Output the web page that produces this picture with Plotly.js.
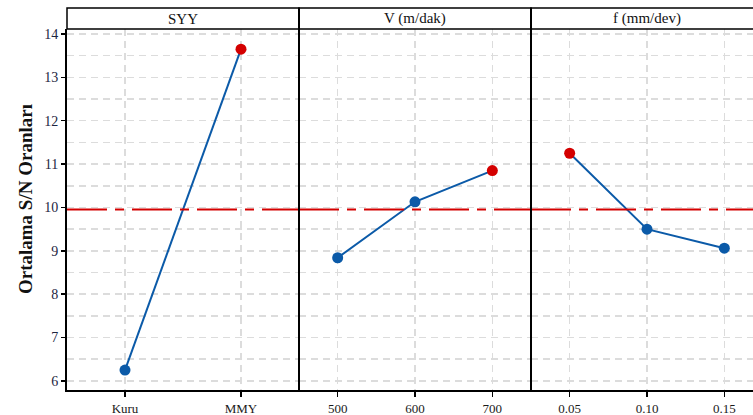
<!DOCTYPE html>
<html>
<head>
<meta charset="utf-8">
<script src="https://cdn.plot.ly/plotly-3.0.1.min.js"></script>
<style>
html,body{margin:0;padding:0;overflow:hidden;background:#fff;}
#chart{width:765px;height:415px;}
</style>
</head>
<body>
<div id="chart"></div>
<script>
// Data
const panelTitles = ['SYY', 'V (m/dak)', 'f (mm/dev)'];
const syyLevels = ['Kuru', 'MMY'];
const syyValues = [6.25, 13.65];
const vLevels = ['500', '600', '700'];
const vValues = [8.84, 10.13, 10.85];
const fLevels = ['0.05', '0.10', '0.15'];
const fValues = [11.25, 9.50, 9.06];
const meanSN = 9.95;
const yTicks = [6, 7, 8, 9, 10, 11, 12, 13, 14];
const yTitle = 'Ortalama S/N Oranları';

const BLUE = '#0b5aa8';
const RED = '#d40000';
const serif = 'Liberation Serif, Times New Roman, serif';

const levelsList = [syyLevels, vLevels, fLevels];
const valuesList = [syyValues, vValues, fValues];

function markerColors(vals) {
  const mx = Math.max(...vals);
  return vals.map(v => v === mx ? RED : BLUE);
}

const traces = levelsList.map((lv, i) => ({
  type: 'scatter',
  mode: 'lines+markers',
  x: lv,
  y: valuesList[i],
  xaxis: i === 0 ? 'x' : 'x' + (i + 1),
  yaxis: 'y',
  line: {color: BLUE, width: 2},
  marker: {color: markerColors(valuesList[i]), size: 11},
  showlegend: false,
  hoverinfo: 'x+y'
}));

const yTop = 0.945;
const layout = {
  width: 765, height: 415,
  margin: {l: 67, r: 2, t: 8, b: 25},
  paper_bgcolor: '#fff', plot_bgcolor: '#fff',
  showlegend: false,
  font: {family: serif, color: '#1a1a1a'},
  yaxis: {
    domain: [0, yTop],
    range: [5.79, 14.115],
    tickvals: yTicks,
    ticktext: yTicks.map(String),
    ticks: 'outside', ticklen: 4, tickwidth: 1.5, tickcolor: '#000',
    tickfont: {family: serif, size: 14, color: '#1c2541'},
    showline: true, linecolor: '#000', linewidth: 2,
    showgrid: true, gridcolor: '#dcdcdc', gridwidth: 1.5, griddash: '7px,5px',
    minor: {dtick: 0.5, tick0: 0, showgrid: true, gridcolor: '#dcdcdc', gridwidth: 1.5, griddash: '7px,5px', ticks: ''},
    zeroline: false
  },
  shapes: [],
  annotations: [{
    xref: 'paper', yref: 'paper', x: -0.0603, y: 0.5,
    text: '<b>' + yTitle + '</b>', textangle: -90, showarrow: false,
    xanchor: 'center', yanchor: 'middle',
    font: {family: serif, size: 19, color: '#111'}
  }]
};

const doms = [[0, 1/3], [1/3, 2/3], [2/3, 1]];
levelsList.forEach((lv, i) => {
  const key = i === 0 ? 'xaxis' : 'xaxis' + (i + 1);
  layout[key] = {
    domain: doms[i],
    anchor: 'y',
    type: 'category',
    categoryorder: 'array', categoryarray: lv,
    range: [-0.5, lv.length - 0.5],
    ticks: 'outside', ticklen: 5, tickwidth: 1.5, tickcolor: '#000',
    tickfont: {family: serif, size: 13, color: '#1a1a1a'},
    showline: true, linecolor: '#000', linewidth: 2,
    showgrid: true, gridcolor: '#dcdcdc', gridwidth: 1.5, griddash: '7px,5px',
    zeroline: false, fixedrange: true
  };
  // strip header
  layout.shapes.push({
    type: 'rect', xref: 'paper', yref: 'paper',
    x0: doms[i][0], x1: doms[i][1], y0: yTop, y1: 1,
    line: {color: '#000', width: 1.5}, fillcolor: '#fff', layer: 'above'
  });
  layout.annotations.push({
    xref: 'paper', yref: 'paper',
    x: (doms[i][0] + doms[i][1]) / 2, y: (yTop + 1) / 2,
    text: panelTitles[i], showarrow: false,
    xanchor: 'center', yanchor: 'middle',
    font: {family: serif, size: 15, color: '#111'}
  });
  // mean line
  layout.shapes.push({
    type: 'line', xref: (i === 0 ? 'x' : 'x' + (i + 1)) + ' domain', yref: 'y',
    x0: 0, x1: 1, y0: meanSN, y1: meanSN,
    line: {color: RED, width: 2, dash: '40px,8px,9px,8px'}, layer: 'above'
  });
});
// panel separators
[1/3, 2/3].forEach(px => {
  layout.shapes.push({
    type: 'line', xref: 'paper', yref: 'paper',
    x0: px, x1: px, y0: 0, y1: 1,
    line: {color: '#000', width: 2}, layer: 'above'
  });
});

Plotly.newPlot('chart', traces, layout, {displayModeBar: false, staticPlot: true});
</script>
</body>
</html>
